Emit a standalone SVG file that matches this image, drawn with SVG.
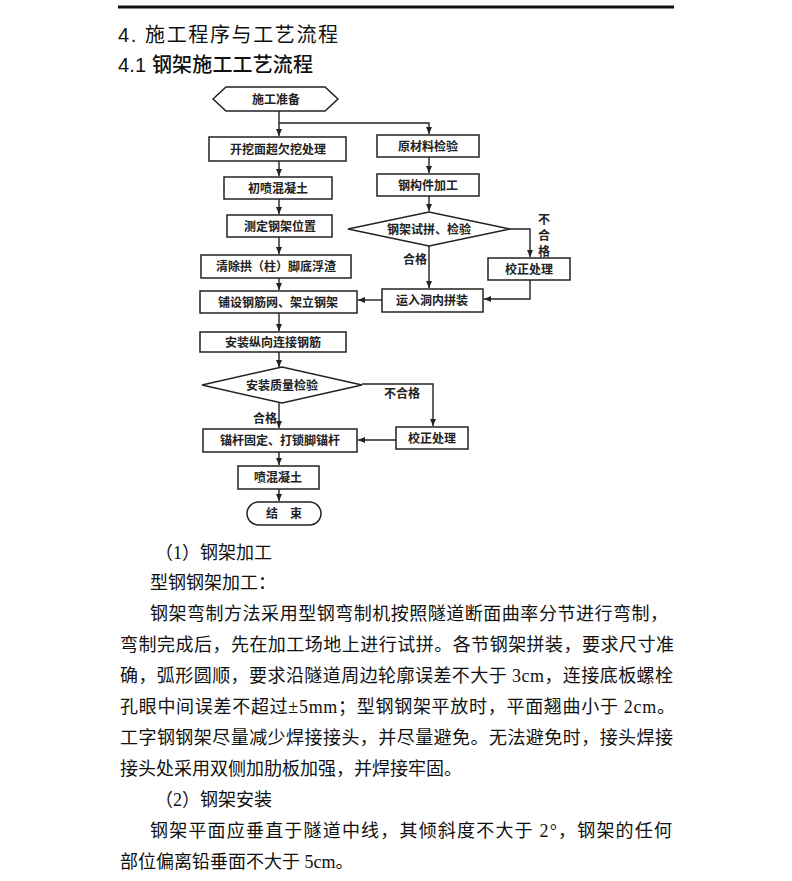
<svg xmlns="http://www.w3.org/2000/svg" width="792" height="881" viewBox="0 0 792 881">
<style>
.h{font-family:"Liberation Sans","Noto Sans CJK SC",sans-serif;fill:#111}
.b{font-family:"Liberation Serif","Noto Sans CJK SC",serif;font-size:18px;fill:#111}
.n rect,.n polygon,.n path{fill:#fff;stroke:#222;stroke-width:1.5}
.t{font-family:"Noto Sans CJK SC",sans-serif;font-size:12px;font-weight:700;fill:#222;text-anchor:middle}
.l{font-family:"Noto Sans CJK SC",sans-serif;font-size:12px;font-weight:700;fill:#222}
#connectors path{fill:none;stroke:#222;stroke-width:1.4}
</style>
<defs>
<marker id="ar" markerWidth="8" markerHeight="8" refX="7" refY="4" orient="auto" markerUnits="userSpaceOnUse">
<path d="M0,1 L7,4 L0,7 Z" fill="#222"/>
</marker>
</defs>
<rect width="792" height="881" fill="#fff"/>
<line x1="118" y1="7" x2="674" y2="7" stroke="#111" stroke-width="3"/>
<text class="h" x="118" y="42" font-size="20" textLength="220" lengthAdjust="spacing">4.  施工程序与工艺流程</text>
<text class="h" x="118" y="72" font-size="20" font-weight="500" textLength="195" lengthAdjust="spacing">4.1 钢架施工工艺流程</text>

<g id="connectors">
<path d="M279,111 V136" marker-end="url(#ar)"/>
<path d="M279,123 H429 V134" marker-end="url(#ar)"/>
<path d="M279,161 V176" marker-end="url(#ar)"/>
<path d="M279,199 V214" marker-end="url(#ar)"/>
<path d="M279,237 V254" marker-end="url(#ar)"/>
<path d="M279,278 V290" marker-end="url(#ar)"/>
<path d="M279,313 V331" marker-end="url(#ar)"/>
<path d="M279,352 V367" marker-end="url(#ar)"/>
<path d="M279,403 V428" marker-end="url(#ar)"/>
<path d="M362,384 H433 V426" marker-end="url(#ar)"/>
<path d="M396,440 H358" marker-end="url(#ar)"/>
<path d="M279,452 V465" marker-end="url(#ar)"/>
<path d="M279,489 V501" marker-end="url(#ar)"/>
<path d="M429,157 V173" marker-end="url(#ar)"/>
<path d="M429,196 V211" marker-end="url(#ar)"/>
<path d="M429,246 V288" marker-end="url(#ar)"/>
<path d="M510,229 H530 V257" marker-end="url(#ar)"/>
<path d="M530,280 V299 H484" marker-end="url(#ar)"/>
<path d="M382,300 H358" marker-end="url(#ar)"/>
</g>
<text class="l" x="253" y="423">合格</text>
<text class="l" x="384" y="398">不合格</text>
<text class="l" x="403" y="264">合格</text>
<text class="l" x="538" y="224">不</text>
<text class="l" x="538" y="240">合</text>
<text class="l" x="538" y="256">格</text>

<g id="n1" class="n"><polygon points="213,99 226,87 325,87 338,99 325,111 226,111"/><text class="t" x="276" y="103.5">施工准备</text></g>
<g id="n2" class="n"><rect x="209" y="137" width="137" height="24"/><text class="t" x="278" y="153.5">开挖面超欠挖处理</text></g>
<g id="n3" class="n"><rect x="224" y="177" width="108" height="22"/><text class="t" x="278" y="192.5">初喷混凝土</text></g>
<g id="n4" class="n"><rect x="227" y="215" width="105" height="22"/><text class="t" x="280" y="230.5">测定钢架位置</text></g>
<g id="n5" class="n"><rect x="201" y="255" width="150" height="23"/><text class="t" x="276" y="271">清除拱（柱）脚底浮渣</text></g>
<g id="n6" class="n"><rect x="200" y="291" width="157" height="22"/><text class="t" x="278" y="306.5">铺设钢筋网、架立钢架</text></g>
<g id="n7" class="n"><rect x="200" y="332" width="146" height="20"/><text class="t" x="273" y="346.5">安装纵向连接钢筋</text></g>
<g id="n8" class="n"><polygon points="202,385 282,367 362,385 282,403"/><text class="t" x="282" y="389.5">安装质量检验</text></g>
<g id="n9" class="n"><rect x="203" y="429" width="154" height="23"/><text class="t" x="280" y="445">锚杆固定、打锁脚锚杆</text></g>
<g id="n10" class="n"><rect x="396" y="427" width="72" height="22"/><text class="t" x="432" y="442.5">校正处理</text></g>
<g id="n11" class="n"><rect x="238" y="466" width="81" height="23"/><text class="t" x="278" y="482">喷混凝土</text></g>
<g id="n12" class="n"><rect x="247" y="502" width="74" height="23" rx="11.5"/><text class="t" x="284" y="518">结　束</text></g>
<g id="n13" class="n"><rect x="377" y="135" width="102" height="22"/><text class="t" x="428" y="150.5">原材料检验</text></g>
<g id="n14" class="n"><rect x="377" y="174" width="102" height="22"/><text class="t" x="428" y="189.5">钢构件加工</text></g>
<g id="n15" class="n"><polygon points="348,229 429,212 510,229 429,246"/><text class="t" x="429" y="233.5">钢架试拼、检验</text></g>
<g id="n16" class="n"><rect x="488" y="258" width="82" height="22"/><text class="t" x="529" y="273.5">校正处理</text></g>
<g id="n17" class="n"><rect x="382" y="289" width="101" height="23"/><text class="t" x="432" y="305">运入洞内拼装</text></g>

<text class="b" x="155" y="559">（1）钢架加工</text>
<text class="b" x="150" y="589">型钢钢架加工：</text>
<text class="b" x="150" y="620" textLength="518" lengthAdjust="spacing">钢架弯制方法采用型钢弯制机按照隧道断面曲率分节进行弯制，</text>
<text class="b" x="120" y="651" textLength="554" lengthAdjust="spacing">弯制完成后，先在加工场地上进行试拼。各节钢架拼装，要求尺寸准</text>
<text class="b" x="120" y="682" textLength="553" lengthAdjust="spacing">确，弧形圆顺，要求沿隧道周边轮廓误差不大于 3cm，连接底板螺栓</text>
<text class="b" x="120" y="713" textLength="555" lengthAdjust="spacing">孔眼中间误差不超过±5mm；型钢钢架平放时，平面翘曲小于 2cm。</text>
<text class="b" x="120" y="744" textLength="553" lengthAdjust="spacing">工字钢钢架尽量减少焊接接头，并尽量避免。无法避免时，接头焊接</text>
<text class="b" x="120" y="775">接头处采用双侧加肋板加强，并焊接牢固。</text>
<text class="b" x="155" y="806">（2）钢架安装</text>
<text class="b" x="150" y="837" textLength="522" lengthAdjust="spacing">钢架平面应垂直于隧道中线，其倾斜度不大于 2°，钢架的任何</text>
<text class="b" x="120" y="868">部位偏离铅垂面不大于 5cm。</text>
</svg>
